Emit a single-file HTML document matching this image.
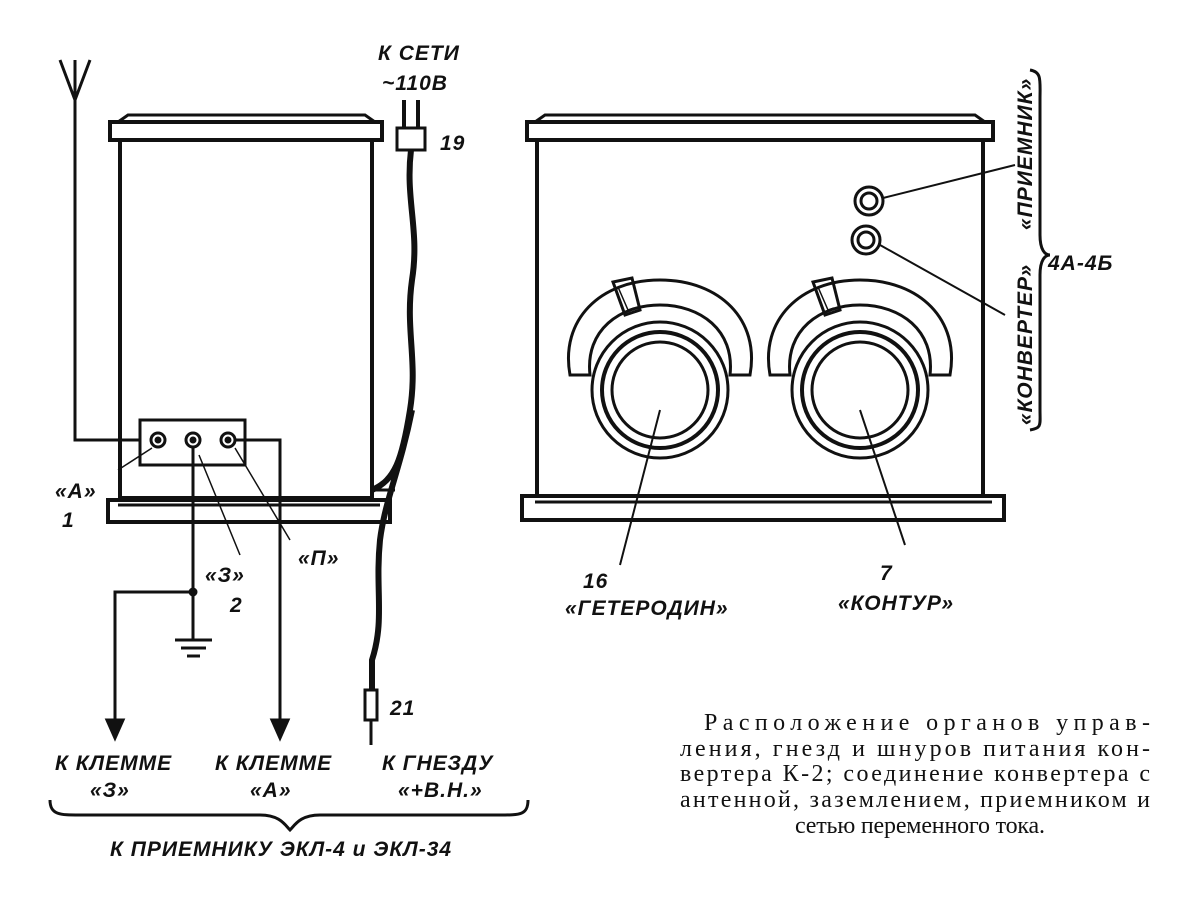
<!DOCTYPE html>
<html><head><meta charset="utf-8"><style>
html,body{margin:0;padding:0;background:#fff}
svg{display:block}
text{font-family:"Liberation Sans",sans-serif;fill:#111}
.it{font-style:italic;font-weight:bold;font-size:21px;letter-spacing:1px}
.cap{font-family:"Liberation Serif",serif;font-size:24px}
</style></head><body>
<svg width="1201" height="904" viewBox="0 0 1201 904" xmlns="http://www.w3.org/2000/svg" fill="none" stroke="#111" stroke-width="3">
<path d="M60 60 L75 100 L90 60 M75 100 V60" />
<path d="M75 100 V440 H140"/>
<rect x="110" y="122" width="272" height="18" stroke-width="4"/>
<path d="M118 122 L128 115 H365 L375 122"/>
<rect x="120" y="140" width="252" height="358" stroke-width="4"/>
<rect x="108" y="500" width="282" height="22" stroke-width="4"/>
<path d="M118 505 H380"/>
<rect x="140" y="420" width="105" height="45" stroke-width="3"/>
<circle cx="158" cy="440" r="7"/><circle cx="158" cy="440" r="2" fill="#111"/>
<circle cx="193" cy="440" r="7"/><circle cx="193" cy="440" r="2" fill="#111"/>
<circle cx="228" cy="440" r="7"/><circle cx="228" cy="440" r="2" fill="#111"/>
<path d="M235 440 H280 V725"/>
<path d="M272 720 L280 738 L288 720 Z" fill="#111"/>
<path d="M193 448 V640 M175 640 H212 M181 648 H206 M187 656 H200"/>
<path d="M193 592 H115 V725"/>
<circle cx="193" cy="592" r="3" fill="#111"/>
<path d="M107 720 L115 738 L123 720 Z" fill="#111"/>
<path d="M152 448 L118 470 M199 455 L240 555 M235 448 L290 540" stroke-width="1.5"/>
<rect x="397" y="128" width="28" height="22" stroke-width="3"/>
<path d="M404 128 V100 M418 128 V100" stroke-width="4"/>
<path d="M411 150 C405 200 420 230 412 280 C405 330 418 360 410 410 C402 460 395 480 372 490 M412 410 C400 470 385 500 380 540 C375 590 385 620 372 660 L372 690" stroke-width="6"/>
<path d="M372 490 H395" stroke-width="3"/>
<rect x="365" y="690" width="12" height="30" stroke-width="3"/>
<path d="M371 720 V745"/>
<rect x="527" y="122" width="466" height="18" stroke-width="4"/>
<path d="M535 122 L545 115 H975 L985 122"/>
<rect x="537" y="140" width="446" height="356" stroke-width="4"/>
<rect x="522" y="496" width="482" height="24" stroke-width="4"/>
<path d="M535 502 H992"/>
<g id="k">
<path d="M570 375 C560 320 600 280 660 280 C720 280 760 320 750 375 L730 375 C735 330 700 305 660 305 C620 305 585 330 590 375 Z"/>
<circle cx="660" cy="390" r="68"/>
<circle cx="660" cy="390" r="58" stroke-width="4"/>
<circle cx="660" cy="390" r="48"/>
<path d="M613 282 L625 315 L640 310 L632 278 Z"/>
<path d="M618 287 L628 310 L634 308" stroke-width="1.5"/>
</g>
<use href="#k" transform="translate(200,0)"/>
<path d="M660 410 L620 565 M860 410 L905 545" stroke-width="2"/>
<circle cx="869" cy="201" r="14"/><circle cx="869" cy="201" r="8"/>
<circle cx="866" cy="240" r="14"/><circle cx="866" cy="240" r="8"/>
<path d="M883 198 L1015 165 M880 245 L1005 315" stroke-width="2"/>
<path d="M1030 70 C1042 72 1040 80 1040 100 V235 C1040 250 1045 255 1050 255 C1045 255 1040 260 1040 275 V410 C1040 425 1042 428 1030 430"/>
<path d="M50 800 C50 815 60 815 80 815 H260 C280 815 285 825 290 830 C295 825 300 815 320 815 H500 C520 815 528 815 528 800"/>
<g stroke="none">
<text class="it" x="378" y="60" font-size="23">К СЕТИ</text>
<text class="it" x="382" y="90" font-size="23">~110В</text>
<text class="it" x="440" y="150">19</text>
<text class="it" x="55" y="498">«А»</text>
<text class="it" x="62" y="527">1</text>
<text class="it" x="205" y="582">«З»</text>
<text class="it" x="230" y="612">2</text>
<text class="it" x="298" y="565">«П»</text>
<text class="it" x="390" y="715">21</text>
<text class="it" x="55" y="770">К КЛЕММЕ</text>
<text class="it" x="90" y="797">«З»</text>
<text class="it" x="215" y="770">К КЛЕММЕ</text>
<text class="it" x="250" y="797">«А»</text>
<text class="it" x="382" y="770">К ГНЕЗДУ</text>
<text class="it" x="398" y="797">«+В.Н.»</text>
<text class="it" x="110" y="856">К  ПРИЕМНИКУ ЭКЛ-4 и ЭКЛ-34</text>
<text class="it" x="583" y="588">16</text>
<text class="it" x="565" y="615">«ГЕТЕРОДИН»</text>
<text class="it" x="880" y="580">7</text>
<text class="it" x="838" y="610">«КОНТУР»</text>
<text class="it" x="1048" y="270">4А-4Б</text>
<text class="it" transform="translate(1032,230) rotate(-90)">«ПРИЕМНИК»</text>
<text class="it" transform="translate(1032,425) rotate(-90)">«КОНВЕРТЕР»</text>
<text class="cap" x="704" y="730" textLength="446" lengthAdjust="spacing">Расположение органов управ-</text>
<text class="cap" x="680" y="756" textLength="470" lengthAdjust="spacing">ления, гнезд и шнуров питания кон-</text>
<text class="cap" x="680" y="781" textLength="470" lengthAdjust="spacing">вертера К-2; соединение конвертера с</text>
<text class="cap" x="680" y="807" textLength="470" lengthAdjust="spacing">антенной, заземлением, приемником и</text>
<text class="cap" x="795" y="833" textLength="250" lengthAdjust="spacing">сетью переменного тока.</text>
</g>
</svg>
</body></html>
